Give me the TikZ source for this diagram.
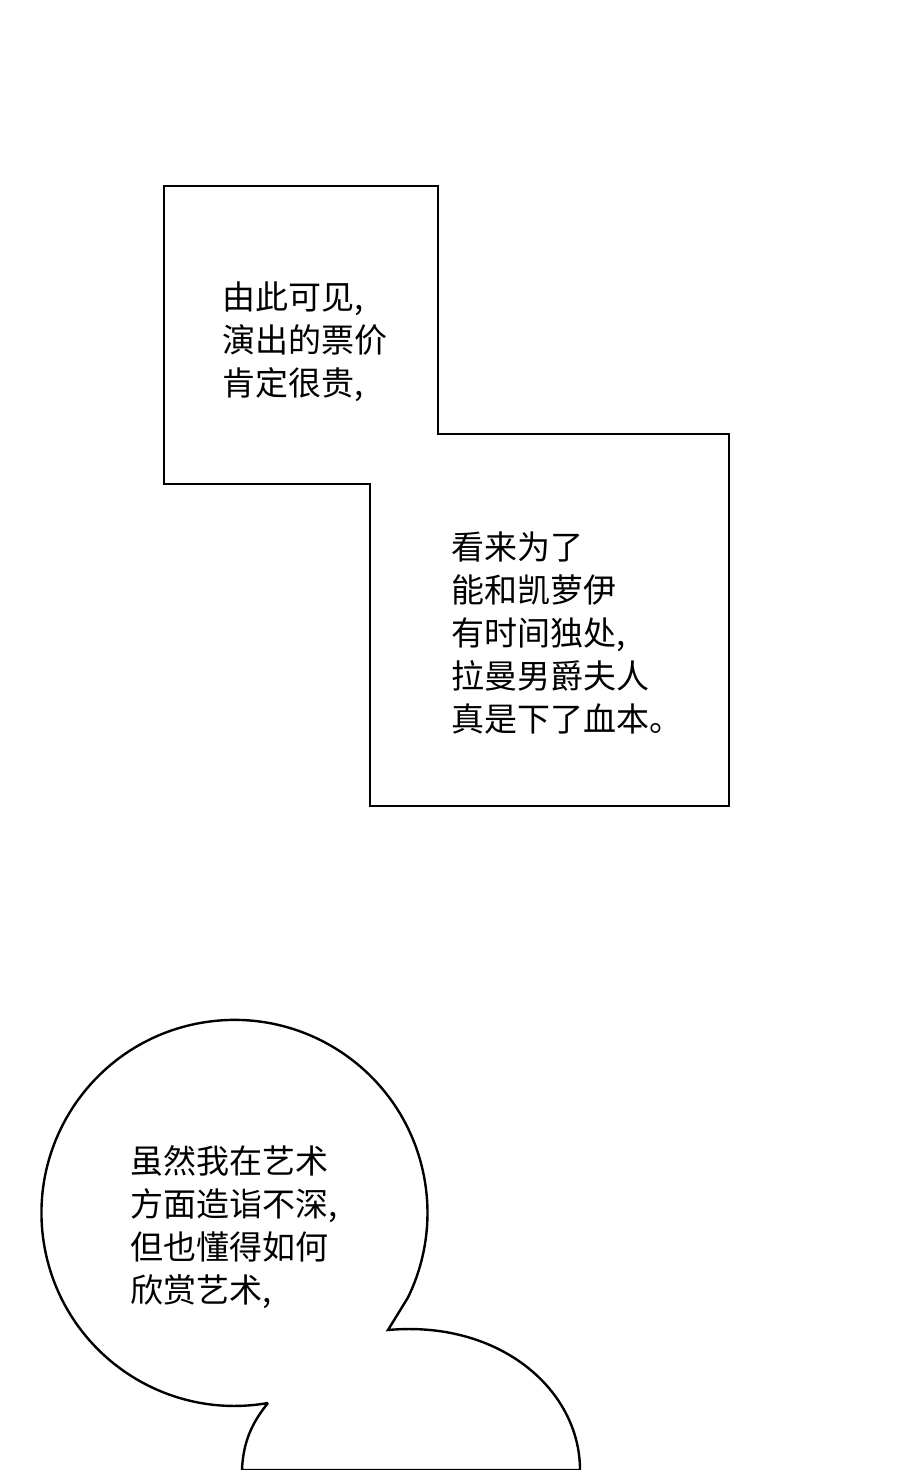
\documentclass[tikz,border=0pt]{standalone}
\usepackage{fontspec}
\newfontfamily\cjk{Noto Sans CJK SC}
\begin{document}
\begin{tikzpicture}[x=1pt,y=1pt,
  txt/.style={anchor=north west,inner sep=0pt,align=left,font=\cjk\fontsize{33}{43}\selectfont},
  outline/.style={draw=black,line width=2.4pt,fill=white,line join=miter}]
\useasboundingbox (0,0) rectangle (900,1470);
\fill[white] (0,0) rectangle (900,1470);
% boxes (y' = 1470 - y)
\draw[outline] (164,1284) -- (438,1284) -- (438,1036) -- (729,1036) -- (729,664) -- (370,664) -- (370,986) -- (164,986) -- cycle;
\node[txt] (t1) at (222,1188) {由此可见,\\演出的票价\\肯定很贵,};
\node[txt] (t2) at (451,938) {看来为了\\能和凯萝伊\\有时间独处,\\拉曼男爵夫人\\真是下了血本。};
% bubbles
\draw[outline] (268,67) arc[start angle=-80,end angle=-386,radius=193] -- (388,140)
  .. controls (500,150) and (580,80) .. (580,0) -- (242,0) .. controls (243,25) and (250,45) .. (268,67);
\node[txt] (t3) at (130,325) {虽然我在艺术\\方面造诣不深,\\但也懂得如何\\欣赏艺术,};
\end{tikzpicture}
\end{document}
